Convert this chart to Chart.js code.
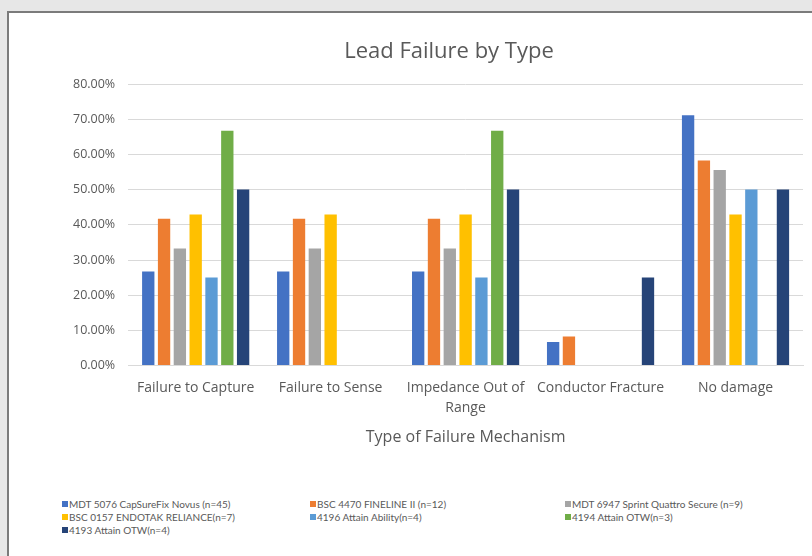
<!DOCTYPE html>
<html>
<head>
<meta charset="utf-8">
<script src="https://cdn.jsdelivr.net/npm/chart.js@4.4.1/dist/chart.umd.min.js"></script>
<style>
  body { margin: 0; background: #e7e7e7; width: 812px; height: 556px; overflow: hidden; position: relative; font-family: "Open Sans", sans-serif; }
  #panel { position: absolute; left: 7px; top: 11px; width: 900px; height: 600px; background: #fff; border: 2px solid #7b7b7b; }
  #wrap { position: absolute; left: 0; top: 0; width: 812px; height: 457px; }
  #legend { position: absolute; left: 62px; top: 498px; width: 740px; display: grid; grid-template-columns: 248px 255px 230px; row-gap: 1px; font-family: Lato, sans-serif; font-size: 10px; color: #595959; }
  #legend div { display: flex; align-items: center; height: 12px; white-space: nowrap; }
  #legend span { display: inline-block; width: 6px; height: 6px; margin-right: 1px; }
</style>
</head>
<body>
<div id="panel"></div>
<div id="wrap"><canvas id="chart"></canvas></div>
<div id="legend"></div>
<script>
// failure categories
var categories = ['Failure to Capture', 'Failure to Sense', ['Impedance Out of', 'Range'], 'Conductor Fracture', 'No damage'];

// lead models (legend)
var leadNames = [
    'MDT 5076 CapSureFix Novus (n=45)',
    'BSC 4470 FINELINE II (n=12)',
    'MDT 6947 Sprint Quattro Secure (n=9)',
    'BSC 0157 ENDOTAK RELIANCE(n=7)',
    '4196 Attain Ability(n=4)',
    '4194 Attain OTW(n=3)',
    '4193 Attain OTW(n=4)'
];
var leadColors = ['#4472C4', '#ED7D31', '#A5A5A5', '#FFC000', '#5B9BD5', '#70AD47', '#264478'];

// percent per category, one array per lead
var mdt5076 = [26.7, 26.7, 26.7, 6.7, 71.1];
var bsc4470 = [41.7, 41.7, 41.7, 8.3, 58.3];
var mdt6947 = [33.3, 33.3, 33.3, 0, 55.6];
var bsc0157 = [42.9, 42.9, 42.9, 0, 42.9];
var attain4196 = [25.0, 0, 25.0, 0, 50.0];
var attain4194 = [66.7, 0, 66.7, 0, 0];
var attain4193 = [50.0, 0, 50.0, 25.0, 50.0];

var yTicks = [0, 10, 20, 30, 40, 50, 60, 70, 80];

var seriesValues = [mdt5076, bsc4470, mdt6947, bsc0157, attain4196, attain4194, attain4193];
var datasets = seriesValues.map(function(vals, i) {
    return {
        label: leadNames[i],
        data: vals,
        backgroundColor: leadColors[i],
        barPercentage: 0.78,
        categoryPercentage: 0.82
    };
});

var textColor = '#595959';
var fontFam = '"Open Sans", sans-serif';

// chart title sits centred on the whole panel, not on the plot
const panelTitle = {
    id: 'panelTitle',
    afterDraw(chart) {
        const {ctx} = chart;
        ctx.save();
        ctx.fillStyle = textColor;
        ctx.font = '22px ' + fontFam;
        ctx.textAlign = 'center';
        ctx.textBaseline = 'middle';
        ctx.fillText('Lead Failure by Type', 449, 52);
        ctx.restore();
    }
};

const chart = new Chart(document.getElementById('chart').getContext('2d'), {
    type: 'bar',
    data: { labels: categories, datasets: datasets },
    options: {
        responsive: true,
        maintainAspectRatio: false,
        animation: false,
        layout: { padding: { left: 60, right: 9, top: 84, bottom: 6 } },
        plugins: {
            legend: { display: false },
            tooltip: { enabled: false }
        },
        scales: {
            x: {
                grid: { display: false },
                border: { color: '#d9d9d9' },
                ticks: { color: textColor, font: { family: fontFam, size: 14, lineHeight: 1.4 }, maxRotation: 0, autoSkip: false, padding: 5 },
                title: { display: true, text: 'Type of Failure Mechanism', color: textColor, font: { family: fontFam, size: 16 }, padding: { top: 5 } }
            },
            y: {
                min: 0,
                max: 80,
                afterBuildTicks: function(axis) { axis.ticks = yTicks.map(function(v) { return { value: v }; }); },
                grid: { color: '#d9d9d9', drawTicks: false },
                border: { display: false },
                ticks: {
                    color: textColor,
                    font: { family: fontFam, size: 12.5 },
                    padding: 13,
                    callback: function(v) { return v.toFixed(2) + '%'; }
                }
            }
        }
    },
    plugins: [panelTitle]
});

// legend laid out in three columns like the original
var legendEl = document.getElementById('legend');
chart.data.datasets.forEach(function(ds) {
    var item = document.createElement('div');
    var sw = document.createElement('span');
    sw.style.background = ds.backgroundColor;
    item.appendChild(sw);
    item.appendChild(document.createTextNode(ds.label));
    legendEl.appendChild(item);
});
</script>
</body>
</html>
